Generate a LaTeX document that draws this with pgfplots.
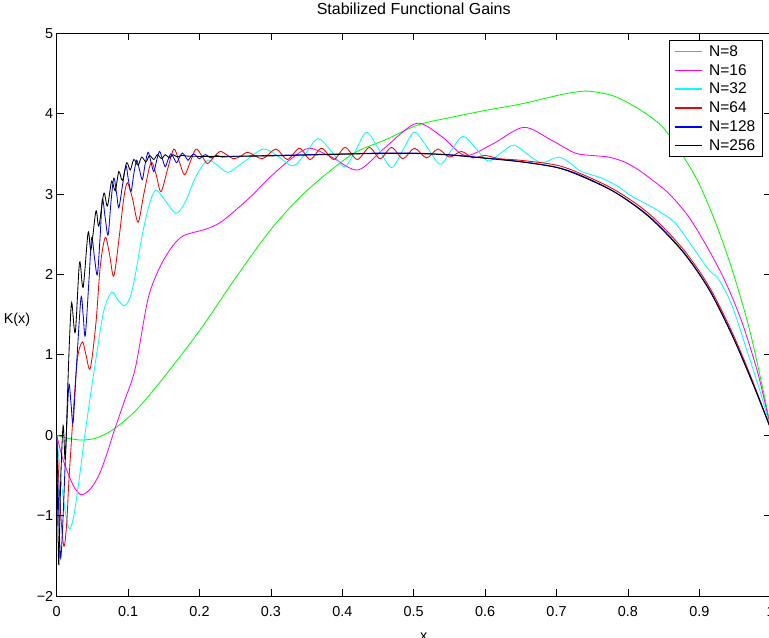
\documentclass[border=0pt]{standalone}
\usepackage{fontspec}
\setmainfont{Liberation Sans}
\usepackage{pgfplots}
\pgfplotsset{compat=1.18}
\definecolor{mgreen}{rgb}{0,1,0}
\definecolor{mmag}{rgb}{1,0,1}
\definecolor{mcyan}{rgb}{0,1,1}
\definecolor{mred}{rgb}{1,0,0}
\definecolor{mblue}{rgb}{0,0,1}
\begin{document}
\begin{tikzpicture}
\begin{axis}[
  scale only axis, width=714bp, height=562.7bp,
  xmin=0, xmax=1, ymin=-2, ymax=5,
  xtick={0,0.1,0.2,0.3,0.4,0.5,0.6,0.7,0.8,0.9,1},
  xticklabels={0,0.1,0.2,0.3,0.4,0.5,0.6,0.7,0.8,0.9,1},
  ytick={-2,-1,0,1,2,3,4,5},
  yticklabels={−2,−1,0,1,2,3,4,5},
  tick align=inside, tick pos=both, major tick length=7bp,
  every tick/.style={black, line width=0.8bp},
  axis line style={line width=0.8bp},
  ticklabel style={font=\fontsize{14.4bp}{16bp}\selectfont},
  xticklabel style={anchor=base, yshift=-20bp},
  title={Stabilized Functional Gains},
  title style={font=\fontsize{16bp}{18bp}\selectfont, at={(0.5,1)}, anchor=base, yshift=12.6bp},
  xlabel={x},
  xlabel style={font=\fontsize{14.4bp}{16bp}\selectfont, at={(axis description cs:0.5,0)}, anchor=base, yshift=-44.8bp, xshift=10bp},
  ylabel={K(x)},
  ylabel style={font=\fontsize{14.4bp}{16bp}\selectfont, rotate=-90, at={(axis description cs:0,0.5)}, anchor=east, xshift=-23bp, yshift=-5bp},
  legend style={at={(1,1)}, anchor=north east, xshift=-8bp, yshift=-6.7bp,
    font=\fontsize{15.5bp}{18bp}\selectfont, draw=black, line width=0.8bp,
    inner xsep=5bp, inner ysep=3bp, row sep=2.5bp},
  legend cell align=left,
  legend image code/.code={\draw[#1, line width=1.5bp] (0bp,0bp) -- (27bp,0bp); \path (32bp,0bp);},
  every axis plot/.append style={line width=0.85bp, smooth, tension=0.5},
]
\coordinate (SW) at (rel axis cs:0,0);
\coordinate (NE) at (rel axis cs:1,1);
% N=8
\addplot[mgreen] coordinates {
(0,0) (0.01,-0.025) (0.02,-0.045) (0.036,-0.06) (0.055,-0.035) (0.079,0.07) (0.111,0.31) (0.15,0.72) (0.2,1.3) (0.25,1.95) (0.3,2.56) (0.35,3.04) (0.413,3.49) (0.459,3.67) (0.506,3.86) (0.55,3.95) (0.6,4.04) (0.65,4.12) (0.693,4.21) (0.72,4.26) (0.745,4.28) (0.78,4.22) (0.815,4.06) (0.848,3.84) (0.876,3.49) (0.899,3.14) (0.923,2.64) (0.946,2.06) (0.969,1.36) (0.987,0.66) (1.0,0.1)
};
\addlegendentry{N=8}
% N=16
\addplot[mmag] coordinates {
(0,0) (0.008,-0.28) (0.017,-0.50) (0.026,-0.67) (0.035,-0.74) (0.047,-0.67) (0.059,-0.50) (0.07,-0.24) (0.080,0.04) (0.095,0.43) (0.110,0.83) (0.128,1.70) (0.145,2.1) (0.162,2.35) (0.177,2.48) (0.195,2.53) (0.211,2.57) (0.228,2.64) (0.244,2.75) (0.272,2.97) (0.30,3.22) (0.33,3.45) (0.354,3.57) (0.385,3.46) (0.422,3.30) (0.46,3.58) (0.504,3.88) (0.54,3.71) (0.572,3.48) (0.61,3.62) (0.654,3.83) (0.693,3.67) (0.726,3.51) (0.75,3.48) (0.773,3.46) (0.795,3.40) (0.815,3.30) (0.835,3.17) (0.857,3.01) (0.885,2.72) (0.913,2.31) (0.937,1.90) (0.960,1.40) (0.983,0.74) (1.0,0.08)
};
\addlegendentry{N=16}
% N=32
\addplot[mcyan] coordinates {
(0,0) (0.006,-0.55) (0.012,-0.95) (0.018,-1.17) (0.024,-1.0) (0.031,-0.58) (0.04,0.04) (0.05,0.66) (0.057,1.07) (0.066,1.55) (0.077,1.78) (0.086,1.68) (0.095,1.61) (0.103,1.72) (0.110,1.99) (0.12,2.5) (0.13,2.88) (0.139,3.05) (0.152,2.92) (0.167,2.76) (0.18,2.9) (0.195,3.22) (0.211,3.42) (0.225,3.36) (0.240,3.27) (0.262,3.40) (0.289,3.56) (0.31,3.47) (0.331,3.35) (0.348,3.50) (0.366,3.69) (0.385,3.53) (0.403,3.34) (0.419,3.55) (0.434,3.77) (0.451,3.56) (0.469,3.33) (0.485,3.55) (0.501,3.77) (0.519,3.58) (0.537,3.37) (0.553,3.55) (0.569,3.72) (0.587,3.57) (0.604,3.41) (0.622,3.51) (0.640,3.61) (0.66,3.49) (0.679,3.39) (0.703,3.46) (0.72,3.38) (0.735,3.28) (0.763,3.20) (0.785,3.10) (0.806,2.97) (0.825,2.88) (0.843,2.79) (0.866,2.64) (0.89,2.35) (0.913,2.06) (0.927,1.94) (0.946,1.61) (0.969,0.99) (0.985,0.55) (1.0,0.08)
};
\addlegendentry{N=32}
% N=64
\addplot[mred] coordinates {
(0,0) (0.005,-0.9) (0.010,-1.38) (0.014,-1.1) (0.017,-0.58) (0.023,0.25) (0.029,0.95) (0.036,1.16) (0.041,1.0) (0.047,0.83) (0.055,1.4) (0.061,2.1) (0.068,2.46) (0.074,2.25) (0.080,1.98) (0.088,2.5) (0.094,2.95) (0.099,3.14) (0.106,2.95) (0.114,2.65) (0.122,3.0) (0.132,3.39) (0.139,3.25) (0.146,3.03) (0.155,3.3) (0.164,3.56) (0.171,3.42) (0.179,3.24) (0.187,3.4) (0.195,3.56) (0.203,3.48) (0.211,3.38) (0.22,3.46) (0.229,3.53) (0.238,3.49) (0.247,3.44) (0.258,3.47) (0.268,3.52) (0.288,3.44) (0.307,3.56) (0.323,3.43) (0.340,3.57) (0.355,3.43) (0.371,3.57) (0.388,3.43) (0.404,3.58) (0.421,3.43) (0.438,3.58) (0.453,3.44) (0.469,3.58) (0.485,3.44) (0.501,3.57) (0.518,3.45) (0.534,3.56) (0.550,3.46) (0.567,3.53) (0.583,3.45) (0.600,3.48) (0.62,3.44) (0.65,3.42) (0.7,3.36) (0.735,3.25) (0.782,3.05) (0.829,2.76) (0.876,2.33) (0.913,1.86) (0.946,1.28) (0.974,0.69) (1.0,0.08)
};
\addlegendentry{N=64}
% N=128
\addplot[mblue] coordinates {
(0,0) (0.003,-1.0) (0.0056,-1.53) (0.009,-1.0) (0.013,-0.1) (0.017,0.62) (0.020,0.4) (0.023,0.16) (0.028,0.9) (0.034,1.71) (0.037,1.5) (0.040,1.24) (0.045,1.9) (0.049,2.46) (0.053,2.2) (0.057,2.0) (0.061,2.5) (0.064,2.94) (0.068,2.7) (0.072,2.49) (0.076,2.9) (0.080,3.2) (0.084,3.0) (0.087,2.83) (0.092,3.1) (0.097,3.35) (0.100,3.2) (0.104,3.03) (0.108,3.25) (0.112,3.42) (0.116,3.3) (0.120,3.18) (0.124,3.38) (0.128,3.52) (0.132,3.4) (0.136,3.28) (0.140,3.42) (0.144,3.53) (0.148,3.44) (0.152,3.34) (0.156,3.43) (0.160,3.50) (0.164,3.45) (0.168,3.39) (0.172,3.46) (0.176,3.51) (0.180,3.47) (0.184,3.42) (0.188,3.47) (0.192,3.50) (0.196,3.47) (0.200,3.44) (0.208,3.49) (0.216,3.45) (0.224,3.48) (0.232,3.46) (0.25,3.47) (0.3,3.48) (0.35,3.49) (0.4,3.50) (0.45,3.51) (0.5,3.51) (0.55,3.49) (0.6,3.45) (0.65,3.405) (0.7,3.335) (0.735,3.23) (0.782,3.025) (0.829,2.73) (0.876,2.30) (0.913,1.83) (0.946,1.25) (0.974,0.67) (1.0,0.08)
};
\addlegendentry{N=128}
% N=256
\addplot[black] coordinates {
(0,0) (0.0015,-1.0) (0.003,-1.61) (0.0055,-0.6) (0.009,0.12) (0.012,-0.3) (0.0155,0.6) (0.018,1.2) (0.021,1.65) (0.026,1.28) (0.032,2.15) (0.037,1.84) (0.044,2.52) (0.048,2.31) (0.055,2.79) (0.059,2.60) (0.066,3.01) (0.071,2.85) (0.077,3.16) (0.082,3.04) (0.087,3.28) (0.092,3.17) (0.098,3.39) (0.103,3.30) (0.108,3.43) (0.114,3.36) (0.119,3.46) (0.125,3.40) (0.130,3.48) (0.136,3.43) (0.141,3.49) (0.147,3.44) (0.152,3.49) (0.158,3.45) (0.163,3.49) (0.169,3.46) (0.175,3.48) (0.19,3.47) (0.25,3.47) (0.3,3.475) (0.35,3.485) (0.4,3.495) (0.45,3.505) (0.5,3.505) (0.55,3.485) (0.6,3.445) (0.65,3.40) (0.7,3.33) (0.735,3.22) (0.782,3.02) (0.829,2.72) (0.876,2.29) (0.913,1.82) (0.946,1.24) (0.974,0.66) (1.0,0.08)
};
\addlegendentry{N=256}
\end{axis}
\pgfresetboundingbox
\useasboundingbox ([shift={(-56.7bp,-42bp)}]SW) rectangle ([shift={(-1.7bp,33.3bp)}]NE);
\end{tikzpicture}
\end{document}
